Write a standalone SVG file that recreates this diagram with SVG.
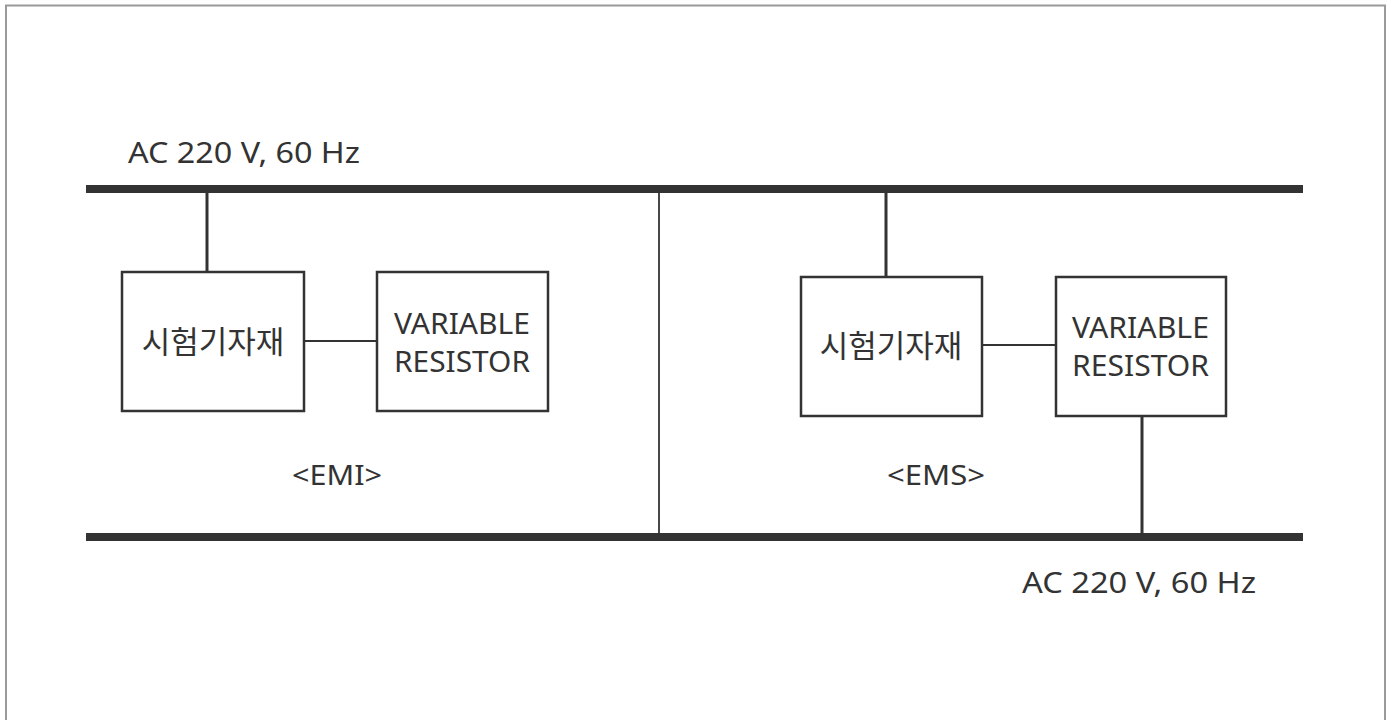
<svg xmlns="http://www.w3.org/2000/svg" width="1393" height="720" viewBox="0 0 1393 720">
<style>
.t{font-family:"Noto Sans","Noto Sans CJK KR",sans-serif;fill:#333;font-size:29px}
.k{font-family:"Noto Sans CJK KR","Noto Sans",sans-serif;fill:#333;font-size:31px}
.lbl{font-size:28px}
.box{fill:#fff;stroke:#333;stroke-width:2.5}
.bus{stroke:#333;stroke-width:8;fill:none}
.w{stroke:#333;stroke-width:3;fill:none}
.thin{stroke:#333;stroke-width:1.8;fill:none}
</style>
<rect width="1393" height="720" fill="#fff"/>
<path d="M6 725 V5.5 H1385 V725" fill="none" stroke="#9a9a9a" stroke-width="2"/>
<g id="connectors">
<line class="bus" x1="86" y1="189" x2="1303" y2="189"/>
<line class="bus" x1="86" y1="537" x2="1303" y2="537"/>
<line class="thin" x1="659" y1="189" x2="659" y2="537"/>
<line class="w" x1="207" y1="189" x2="207" y2="272"/>
<line class="thin" x1="304" y1="341" x2="377" y2="341"/>
<line class="w" x1="886" y1="189" x2="886" y2="277"/>
<line class="thin" x1="982" y1="345" x2="1056" y2="345"/>
<line class="w" x1="1142" y1="416" x2="1142" y2="537"/>
</g>
<g id="label-top"><text class="t" x="128" y="163" textLength="232" lengthAdjust="spacingAndGlyphs">AC 220 V, 60 Hz</text></g>
<g id="label-bottom"><text class="t" x="1022" y="593" textLength="234" lengthAdjust="spacingAndGlyphs">AC 220 V, 60 Hz</text></g>
<g id="emi-device">
<rect class="box" x="122" y="272" width="182" height="139"/>
<text class="k" x="213" y="353" text-anchor="middle">시험기자재</text>
</g>
<g id="emi-resistor">
<rect class="box" x="377" y="272" width="171" height="139"/>
<text class="t" x="394" y="334" textLength="136" lengthAdjust="spacingAndGlyphs">VARIABLE</text>
<text class="t" x="394" y="372" textLength="136" lengthAdjust="spacingAndGlyphs">RESISTOR</text>
</g>
<g id="emi-label"><text class="t lbl" x="292" y="485" textLength="90" lengthAdjust="spacingAndGlyphs">&lt;EMI&gt;</text></g>
<g id="ems-device">
<rect class="box" x="801" y="277" width="181" height="139"/>
<text class="k" x="891" y="357" text-anchor="middle">시험기자재</text>
</g>
<g id="ems-resistor">
<rect class="box" x="1056" y="277" width="170" height="139"/>
<text class="t" x="1072" y="338" textLength="137" lengthAdjust="spacingAndGlyphs">VARIABLE</text>
<text class="t" x="1072" y="376" textLength="137" lengthAdjust="spacingAndGlyphs">RESISTOR</text>
</g>
<g id="ems-label"><text class="t lbl" x="887" y="485" textLength="98" lengthAdjust="spacingAndGlyphs">&lt;EMS&gt;</text></g>
</svg>
